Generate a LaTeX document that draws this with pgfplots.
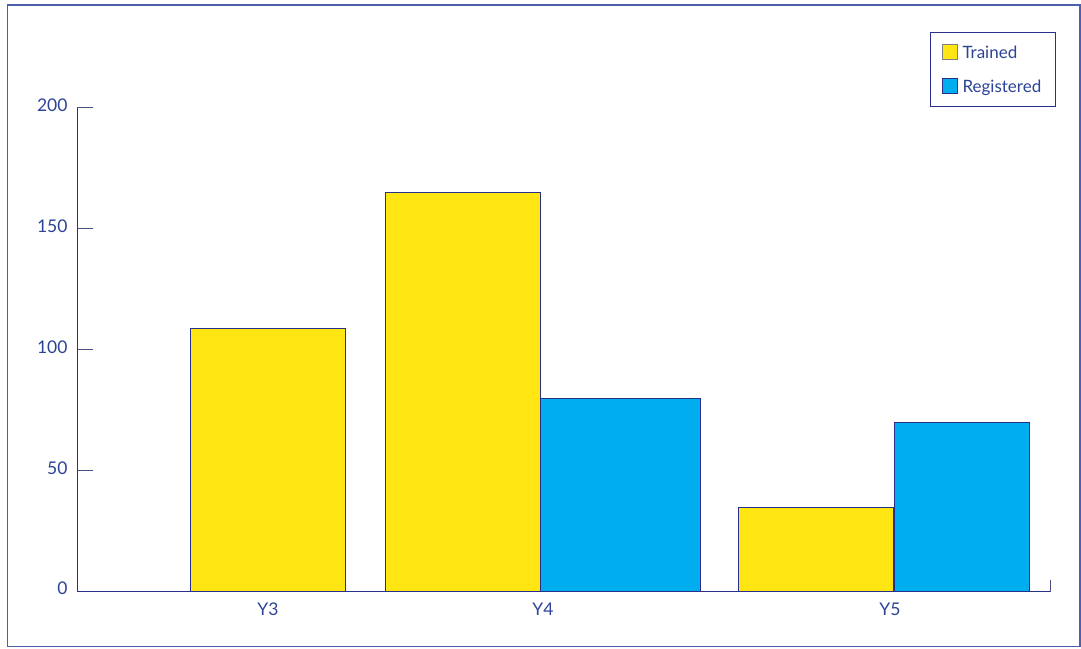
\documentclass[border=0pt]{standalone}
\usepackage{fontspec}
\setmainfont{Lato}
\usepackage{pgfplots}
\pgfplotsset{compat=1.18}
\definecolor{navy}{RGB}{40,48,140}
\definecolor{txt}{RGB}{45,68,150}
\definecolor{framec}{RGB}{75,95,172}
\definecolor{yel}{RGB}{255,229,18}
\definecolor{cy}{RGB}{0,174,239}
\begin{document}
\begin{tikzpicture}[x=1pt,y=1pt]
\useasboundingbox (0,0) rectangle (1081,648);
\draw[framec, line width=1.6pt] (7.6,1.6) rectangle (1080.2,643);
\begin{axis}[
  at={(77pt,56.3pt)}, anchor=south west,
  scale only axis, width=973pt, height=483.7pt,
  xmin=77, xmax=1050, ymin=0, ymax=200,
  axis x line=bottom, axis y line=left,
  axis line style={-, navy, line width=1pt},
  tick align=inside,
  major tick length=16pt,
  ytick={0,50,100,150,200},
  ytick style={draw=navy!60!gray, line width=1pt},
  xtick={268,543,890}, xticklabels={Y3,Y4,Y5},
  xtick style={draw=none},
  extra x ticks={1050}, extra x tick labels={},
  extra x tick style={grid=none, major tick length=12pt, xtick style={draw=navy!60!gray, line width=1pt}},
  /pgf/number format/assume math mode=true,
  ticklabel style={font=\fontsize{17.5}{20}\selectfont, text=txt},
  yticklabel style={xshift=-6pt, yshift=3pt},
  xticklabel style={yshift=-8pt},
  legend style={at={(1.0059,1.1565)}, anchor=north east, draw=navy, line width=1pt,
    font=\fontsize{17}{20}\selectfont, text=txt, inner xsep=11pt, inner ysep=11pt,
    row sep=16pt, legend cell align=left,
    nodes={inner xsep=3pt}},
]
\addplot[ybar, bar shift=0pt, bar width=155, fill=yel, draw=navy, line width=1pt,
  legend image code/.code={\draw[fill=yel, draw=gray, line width=1pt] (0pt,-7pt) rectangle (15pt,8pt); \path (17pt,0pt);}]
  coordinates {(267.7,109) (463,165) (816.2,35)};
\addlegendentry{Trained}
\addplot[ybar, bar shift=0pt, bar width=160.4, fill=cy, draw=navy, line width=1pt,
  legend image code/.code={\draw[fill=cy, draw=navy, line width=1pt] (0pt,-7pt) rectangle (15pt,8pt); \path (17pt,0pt);}]
  coordinates {(620.5,80)};
\addlegendentry{Registered}
\addplot[ybar, bar shift=0pt, bar width=135.7, fill=cy, draw=navy, line width=1pt, forget plot]
  coordinates {(961.9,70)};
\end{axis}
\end{tikzpicture}
\end{document}
